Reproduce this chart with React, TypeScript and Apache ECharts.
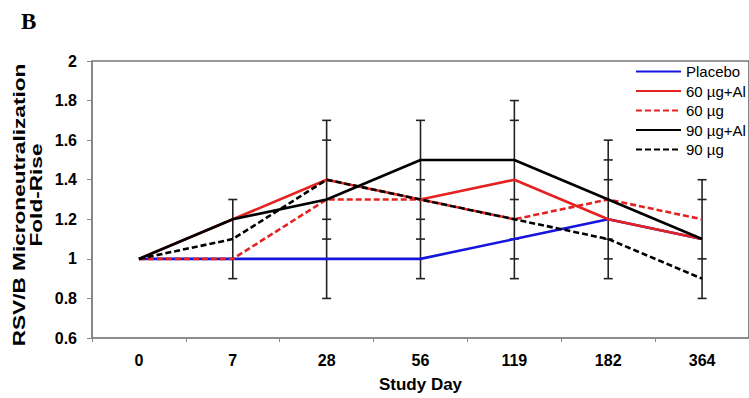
import React, { useEffect, useRef } from "react";
import * as echarts from "echarts";

const studyDays = ["0", "7", "28", "56", "119", "182", "364"];
const yTicks = { min: 0.6, max: 2, interval: 0.2 };
const yNameLines = ["RSV/B Microneutralization", "Fold-Rise"];

const placebo = [1.0, 1.0, 1.0, 1.0, 1.1, 1.2, 1.1];
const dose60Al = [1.0, 1.2, 1.4, 1.3, 1.4, 1.2, 1.1];
const dose60 = [1.0, 1.0, 1.3, 1.3, 1.2, 1.3, 1.2];
const dose90Al = [1.0, 1.2, 1.3, 1.5, 1.5, 1.3, 1.1];
const dose90 = [1.0, 1.1, 1.4, 1.3, 1.2, 1.1, 0.9];

// error-bar cap values per study day (overlapping CIs of the groups)
const errorCaps: number[][] = [
  [],
  [1.3, 0.9],
  [1.7, 1.6, 1.2, 1.1, 0.8],
  [1.7, 1.4, 1.2, 1.1, 0.9],
  [1.8, 1.7, 1.3, 1.1, 1.0, 0.9],
  [1.6, 1.5, 1.4, 1.1, 1.0, 0.9],
  [1.4, 1.3, 1.0, 0.8],
];

const FONT = "Liberation Sans, Arial, sans-serif";

export default function App() {
  const ref = useRef<HTMLDivElement>(null);
  useEffect(() => {
    if (!ref.current) return;
    const chart = echarts.init(ref.current, undefined, { renderer: "svg" });

    const errData = errorCaps
      .map((caps, i) => (caps.length ? [i, Math.min(...caps), Math.max(...caps)] : null))
      .filter((d) => d !== null) as number[][];

    const lineSeries = (name: string, data: number[], color: string, dashed: boolean) => ({
      name,
      type: "line",
      data,
      symbol: "none",
      z: 3,
      lineStyle: { color, width: 2.6, type: dashed ? [6, 3] : "solid" },
      itemStyle: { color },
    });

    const yNameStyle = {
      fontFamily: FONT,
      fontWeight: "bold",
      fontSize: 17,
      fill: "#000",
      textAlign: "center",
      textVerticalAlign: "middle",
    };

    chart.setOption({
      animation: false,
      backgroundColor: "#fff",
      title: {
        text: "B",
        left: 16,
        top: 5,
        textStyle: { fontFamily: "Liberation Serif, serif", fontWeight: "bold", fontSize: 23, color: "#000" },
      },
      graphic: [
        {
          type: "text",
          x: 19,
          y: 205,
          rotation: Math.PI / 2,
          scaleX: 1.33,
          style: { ...yNameStyle, text: yNameLines[0] },
        },
        {
          type: "text",
          x: 36,
          y: 195,
          rotation: Math.PI / 2,
          scaleX: 1.33,
          style: { ...yNameStyle, text: yNameLines[1] },
        },
      ],
      grid: {
        left: 92,
        right: -8,
        top: 61,
        bottom: 57,
        show: true,
        borderColor: "#333",
        borderWidth: 1.2,
        backgroundColor: "transparent",
      },
      legend: {
        orient: "vertical",
        left: 635,
        top: 64,
        itemWidth: 45,
        itemHeight: 14,
        itemGap: 4.5,
        padding: 0,
        itemStyle: { opacity: 0 },
        textStyle: { fontFamily: FONT, fontSize: 15, lineHeight: 14, color: "#000" },
        data: ["Placebo", "60 µg+Al", "60 µg", "90 µg+Al", "90 µg"],
      },
      xAxis: {
        type: "category",
        data: studyDays,
        boundaryGap: true,
        name: "Study Day",
        nameLocation: "middle",
        nameGap: 38,
        nameTextStyle: { fontFamily: FONT, fontWeight: "bold", fontSize: 17, color: "#000" },
        axisLine: { lineStyle: { color: "#888", width: 1.5 } },
        axisTick: { show: true, length: 4, lineStyle: { color: "#888" } },
        axisLabel: { fontFamily: FONT, fontWeight: "bold", fontSize: 16, color: "#000", margin: 14 },
        splitLine: { show: false },
      },
      yAxis: {
        type: "value",
        min: yTicks.min,
        max: yTicks.max,
        interval: yTicks.interval,
        axisLine: { show: true, lineStyle: { color: "#888", width: 1.5 } },
        axisTick: { show: true, length: 5, lineStyle: { color: "#888" } },
        axisLabel: { fontFamily: FONT, fontWeight: "bold", fontSize: 16, color: "#000", margin: 15 },
        splitLine: { show: false },
      },
      series: [
        {
          type: "custom",
          name: "errors",
          z: 2,
          data: errData,
          encode: { x: 0, y: [1, 2] },
          renderItem: (params: any, api: any) => {
            const idx = api.value(0);
            const caps = errorCaps[idx];
            const top = api.coord([idx, Math.max(...caps)]);
            const bot = api.coord([idx, Math.min(...caps)]);
            const style = { stroke: "#222", lineWidth: 1.6 };
            const children: any[] = [
              { type: "line", shape: { x1: top[0], y1: top[1], x2: bot[0], y2: bot[1] }, style },
            ];
            caps.forEach((v) => {
              const p = api.coord([idx, v]);
              children.push({
                type: "line",
                shape: { x1: p[0] - 4.5, y1: p[1], x2: p[0] + 4.5, y2: p[1] },
                style,
              });
            });
            return { type: "group", children };
          },
        },
        lineSeries("Placebo", placebo, "#1515dd", false),
        lineSeries("60 µg+Al", dose60Al, "#e52222", false),
        lineSeries("60 µg", dose60, "#e52222", true),
        lineSeries("90 µg+Al", dose90Al, "#000000", false),
        lineSeries("90 µg", dose90, "#000000", true),
      ],
    });
    return () => chart.dispose();
  }, []);
  return (
    <div
      ref={ref}
      style={{ position: "fixed", left: 0, top: 0, width: 749, height: 398, background: "#fff" }}
    />
  );
}
